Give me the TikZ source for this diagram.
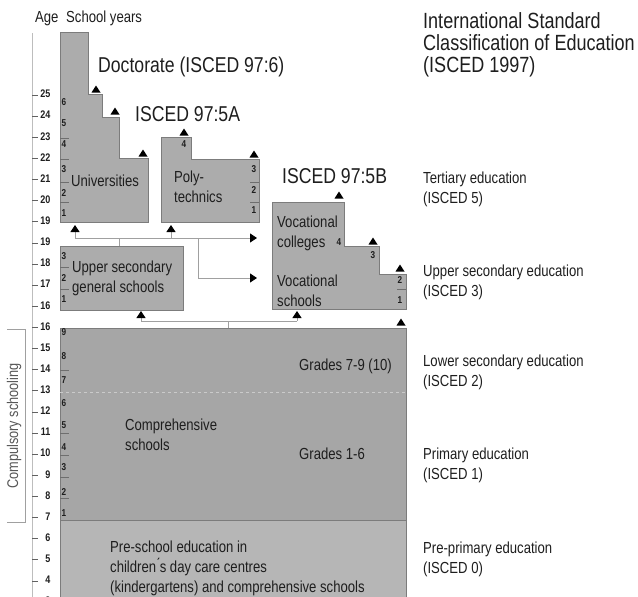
\documentclass[tikz,border=0pt]{standalone}
\usepackage{fontspec}
\setmainfont[FakeStretch=0.82]{Liberation Sans}
\usetikzlibrary{arrows.meta}
\definecolor{boxgray}{HTML}{ACACAC}
\definecolor{compgray}{HTML}{A6A6A6}
\definecolor{pregray}{HTML}{B6B6B6}
\definecolor{edge}{HTML}{7C7C7C}
\definecolor{linegray}{HTML}{A0A0A0}
\definecolor{ink}{HTML}{1E1E1E}
\definecolor{sepgray}{HTML}{6E6E6E}
\begin{document}
\begin{tikzpicture}[x=1pt,y=-1pt,
  txt/.style={inner sep=0pt, text=ink},
  lbl/.style={txt, anchor=base west, font=\fontsize{16}{19}\selectfont},
  head/.style={txt, anchor=base west, font=\fontsize{21.5}{25}\selectfont},
  ttl/.style={txt, anchor=base west, font=\fontsize{22}{25}\selectfont},
  agenum/.style={txt, anchor=east, font=\bfseries\fontsize{11}{13}\selectfont},
  yr/.style={txt, font=\bfseries\fontsize{10}{12}\selectfont},
  box/.style={fill=boxgray, draw=edge, line width=0.6pt},
  conn/.style={draw=linegray, line width=0.8pt},
  arr/.style={conn, -{Triangle[width=9pt,length=7pt,color=black]}},
  sep/.style={draw=sepgray, line width=0.5pt},
  tickmark/.style={draw=ink!70, line width=0.6pt},
  stepmk/.pic={\fill[black] (-4.5,3.5) -- (4.5,3.5) -- (0,-3.5) -- cycle;}]
\useasboundingbox (0,0) rectangle (638,597);

% ---------- boxes ----------
\draw[box] (60,32) -- (88,32) -- (88,94) -- (102,94) -- (102,117) -- (119,117)
  -- (119,158) -- (148,158) -- (148,222) -- (60,222) -- cycle;
\draw[box] (161,137) -- (191,137) -- (191,159) -- (259,159) -- (259,222) -- (161,222) -- cycle;
\draw[box] (272,202) -- (344,202) -- (344,246) -- (379,246) -- (379,274)
  -- (406,274) -- (406,309) -- (272,309) -- cycle;
\draw[box] (60,246) rectangle (183,310);
\fill[pregray] (60,520) rectangle (406,600);
\draw[edge, line width=0.6pt] (60,600) -- (60,520) -- (406,520) -- (406,600);
\draw[box, fill=compgray] (60,328) rectangle (406,520);
\draw[compgray!60!white, dashed, line width=0.5pt] (60,392) -- (406,392);

% ---------- axis ----------
\draw[draw=linegray!70, line width=0.6pt] (32,33) -- (32,597);
\foreach \a [count=\k from 0] in {25,24,23,22,21,20,19,19,18,17,16,16,15,14,13,12,11,10,9,8,7,6,5,4,3} {
  \pgfmathsetmacro\yy{94+21.125*\k}
  \draw[tickmark] (32,\yy+1) -- (38,\yy+1);
  \node[agenum] (age\k) at (50.5,\yy) {\a};
}

% ---------- school year numbers ----------
\foreach \n/\xx/\yy [count=\c] in {6/64/102,5/64/123,4/64/144,3/64/169,2/64/193,1/64/213,
  4/184/144,3/254/169,2/254/190,1/254/210,
  4/339/242,3/373/255,2/400/280,1/400/300,
  3/64/256,2/64/278,1/64/299,
  9/64/332,8/64/356,7/64/380,6/64/403,5/64/425,4/64/447,3/64/467,2/64/492,1/64/513}
  \node[yr] (yr\c) at (\xx,\yy) {\n};
\foreach \yy in {138,159,182,202,267,289,370,433,455,477,498}
  \draw[sep] (60,\yy) -- (69,\yy);
\foreach \yy in {182,202}
  \draw[sep] (250,\yy) -- (259,\yy);
\draw[sep] (397,289) -- (406,289);

% ---------- step markers ----------
\foreach \xx/\yy in {96/89,115/111,143/153,184/132,254/154,339/195,373/241,400/268,401/322}
  \pic at (\xx,\yy) {stepmk};

% ---------- connectors ----------
\coordinate (uB) at (75,225);
\coordinate (pB) at (171,225);
\coordinate (ju) at (75,238);
\coordinate (jp) at (171,238);
\coordinate (jus) at (119,238);
\coordinate (usTop) at (119,246);
\coordinate (jv) at (198,238);
\coordinate (jvs) at (198,278);
\coordinate (vcTip) at (257,238);
\coordinate (vsTip) at (257,278);
\draw[conn] (usTop) -- (jus);
\draw[arr] (ju) -- (vcTip);
\draw[arr] (ju) -- (uB);
\draw[arr] (jp) -- (pB);
\draw[arr] (jv) -- (jvs) -- (vsTip);

\coordinate (usB) at (141,311);
\coordinate (vsB) at (297,311);
\coordinate (jl) at (141,321);
\coordinate (jr) at (297,321);
\coordinate (jm) at (228,321);
\coordinate (compTop) at (228,328);
\draw[conn] (jl) -- (jr);
\draw[conn] (jm) -- (compTop);
\draw[arr] (jl) -- (usB);
\draw[arr] (jr) -- (vsB);

% ---------- compulsory schooling bracket ----------
\draw[draw=linegray, line width=0.6pt] (7,329) -- (25,329) -- (25,522) -- (7,522);
\node[txt, text=ink!75, rotate=90, font=\fontsize{15.5}{18}\selectfont] (comp) at (14,426) {Compulsory schooling};

% ---------- texts ----------
\node[lbl] (age) at (35,23) {Age};
\node[lbl] (sy) at (66,23) {School years};
\node[head] (doc) at (98,72) {Doctorate (ISCED 97:6)};
\node[head] (i5a) at (135,121) {ISCED 97:5A};
\node[head] (i5b) at (282,183) {ISCED 97:5B};

\node[ttl] (t1) at (423,28) {International Standard};
\node[ttl] (t2) at (423,50) {Classification of Education};
\node[ttl] (t3) at (423,72) {(ISCED 1997)};

\node[lbl] (r1a) at (423,183) {Tertiary education};
\node[lbl] (r1b) at (423,203) {(ISCED 5)};
\node[lbl] (r2a) at (423,276) {Upper secondary education};
\node[lbl] (r2b) at (423,296) {(ISCED 3)};
\node[lbl] (r3a) at (423,366) {Lower secondary education};
\node[lbl] (r3b) at (423,386) {(ISCED 2)};
\node[lbl] (r4a) at (423,459) {Primary education};
\node[lbl] (r4b) at (423,479) {(ISCED 1)};
\node[lbl] (r5a) at (423,553) {Pre-primary education};
\node[lbl] (r5b) at (423,573) {(ISCED 0)};

\node[lbl] (univ) at (71,186) {Universities};
\node[lbl] (poly1) at (174,182) {Poly-};
\node[lbl] (poly2) at (174,202) {technics};
\node[lbl] (vc1) at (277,227) {Vocational};
\node[lbl] (vc2) at (277,247) {colleges};
\node[lbl] (vs1) at (277,286) {Vocational};
\node[lbl] (vs2) at (277,306) {schools};
\node[lbl] (us1) at (72,272) {Upper secondary};
\node[lbl] (us2) at (72,292) {general schools};
\node[lbl] (g79) at (299,370) {Grades 7-9 (10)};
\node[lbl] (g16) at (299,459) {Grades 1-6};
\node[lbl] (cs1) at (125,430) {Comprehensive};
\node[lbl] (cs2) at (125,450) {schools};
\node[lbl] (ps1) at (110,552) {Pre-school education in};
\node[lbl] (ps2) at (110,572) {children\'{}s day care centres};
\node[lbl] (ps3) at (110,592) {(kindergartens) and comprehensive schools};
\end{tikzpicture}
\end{document}
